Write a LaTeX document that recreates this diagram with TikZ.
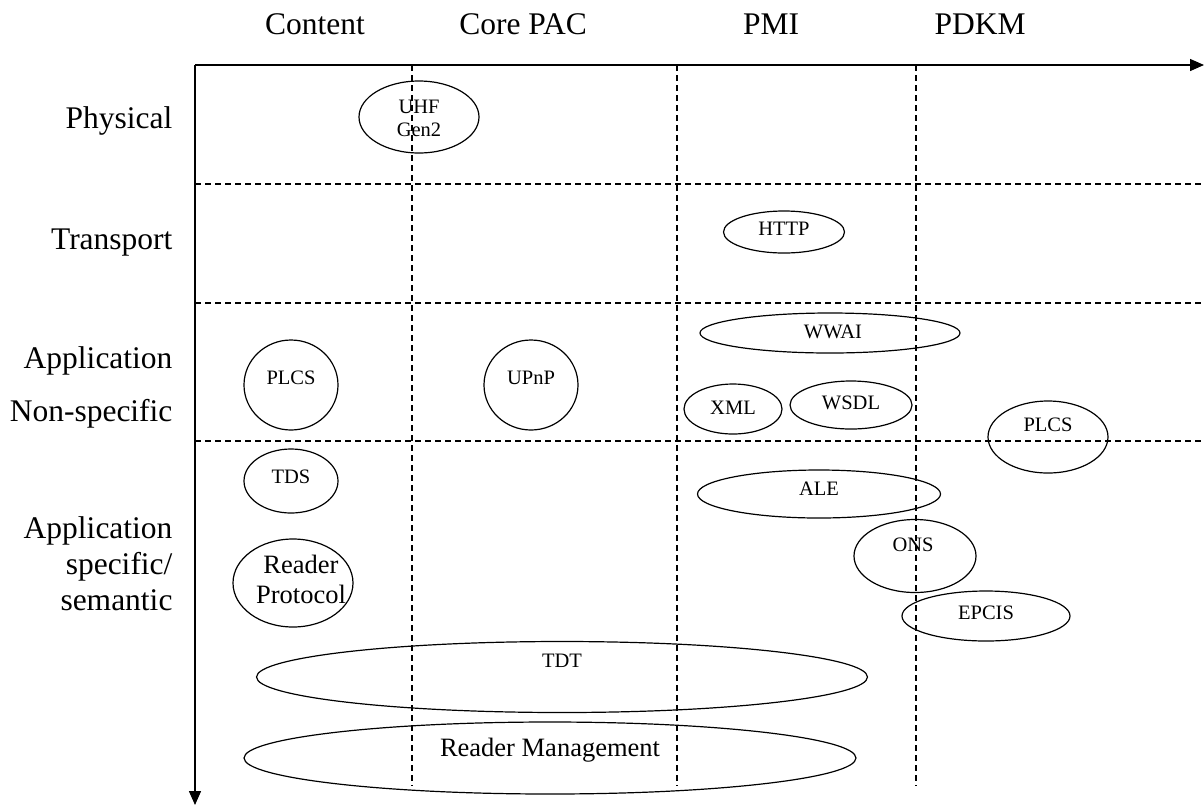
\documentclass[tikz,border=0pt]{standalone}
\usepackage{fontspec}
\setmainfont{Liberation Serif}
\usetikzlibrary{
    arrows.meta,     % For the Triangle tips on the axes
    shapes.geometric % For the ellipse nodes
}

\begin{document}
\begin{tikzpicture}[
    x=1pt, y=-1pt,
    axis/.style={-{Triangle[length=14pt, width=12pt]}, line width=1.4pt},
    grid/.style={dashed, dash pattern=on 6pt off 4pt, line width=1.3pt},
    heading/.style={font=\fontsize{31.5}{36}\selectfont, anchor=base},
    layer/.style={font=\fontsize{31.5}{36}\selectfont, anchor=base east},
    std/.style={ellipse, draw, line width=1.2pt, inner sep=0pt},
    lbl/.style={font=\fontsize{20.5}{23}\selectfont, align=center},
    biglbl/.style={font=\fontsize{26.5}{30}\selectfont, align=center}
]
    \useasboundingbox (0,0) rectangle (1204,807);

    % Column headers
    \node[heading] (content) at (315,34) {Content};
    \node[heading] (corepac) at (523,34) {Core PAC};
    \node[heading] (pmi) at (771,34) {PMI};
    \node[heading] (pdkm) at (980,34) {PDKM};

    % Row headers
    \node[layer] (physical) at (176,128) {Physical};
    \node[layer] (transport) at (176,249) {Transport};
    \node[layer] (appnon1) at (176,368) {Application};
    \node[layer] (appnon2) at (176,421) {Non-specific};
    \node[layer] (appspec1) at (176,538) {Application};
    \node[layer] (appspec2) at (176,574) {specific/};
    \node[layer] (appspec3) at (176,610) {semantic};

    % Dashed grid
    \foreach \yy in {184,303,441}
        \draw[grid] (195,\yy) -- (1204,\yy);
    \foreach \xx in {412,677,916}
        \draw[grid] (\xx,65) -- (\xx,786);

    % Axes
    \coordinate (origin) at (195,65);
    \coordinate (xend) at (1204,65);
    \coordinate (yend) at (195,805);
    \draw[axis] (origin) -- (xend);
    \draw[axis] (origin) -- (yend);

    % Physical
    \node[std, minimum width=120pt, minimum height=72pt] (uhf) at (419,117) {};
    \node[lbl] (uhf_t) at (419,118) {UHF\\Gen2};

    % Transport
    \node[std, minimum width=121pt, minimum height=42pt] (http) at (784,232) {};
    \node[lbl] (http_t) at (784,229) {HTTP};

    % Application non-specific
    \node[std, minimum width=260pt, minimum height=40pt] (wwai) at (830,333) {};
    \node[lbl] (wwai_t) at (833,332) {WWAI};
    \node[std, minimum width=94pt, minimum height=90pt] (plcs1) at (291,385) {};
    \node[lbl] (plcs1_t) at (291,378) {PLCS};
    \node[std, minimum width=94pt, minimum height=90pt] (upnp) at (531,385) {};
    \node[lbl] (upnp_t) at (531,378) {UPnP};
    \node[std, minimum width=98pt, minimum height=50pt] (xml) at (733,409) {};
    \node[lbl] (xml_t) at (733,408) {XML};
    \node[std, minimum width=122pt, minimum height=48pt] (wsdl) at (851,405) {};
    \node[lbl] (wsdl_t) at (851,403) {WSDL};
    \node[std, minimum width=120pt, minimum height=72pt] (plcs2) at (1048,437) {};
    \node[lbl] (plcs2_t) at (1048,425) {PLCS};

    % Application specific / semantic
    \node[std, minimum width=94pt, minimum height=64pt] (tds) at (291,481) {};
    \node[lbl] (tds_t) at (291,477) {TDS};
    \node[std, minimum width=120pt, minimum height=88pt] (rp) at (293,583) {};
    \node[biglbl] (rp_t) at (301,579) {Reader\\Protocol};
    \node[std, minimum width=243pt, minimum height=48pt] (ale) at (819,494) {};
    \node[lbl] (ale_t) at (819,489) {ALE};
    \node[std, minimum width=122pt, minimum height=73pt] (ons) at (915,556) {};
    \node[lbl] (ons_t) at (913,545) {ONS};
    \node[std, minimum width=168pt, minimum height=50pt] (epcis) at (986,616) {};
    \node[lbl] (epcis_t) at (986,613) {EPCIS};
    \node[std, minimum width=611pt, minimum height=71pt] (tdt) at (562,677) {};
    \node[lbl] (tdt_t) at (562,661) {TDT};
    \node[std, minimum width=612pt, minimum height=72pt] (rm) at (550,758) {};
    \node[biglbl] (rm_t) at (550,750) {Reader Management};
\end{tikzpicture}
\end{document}
